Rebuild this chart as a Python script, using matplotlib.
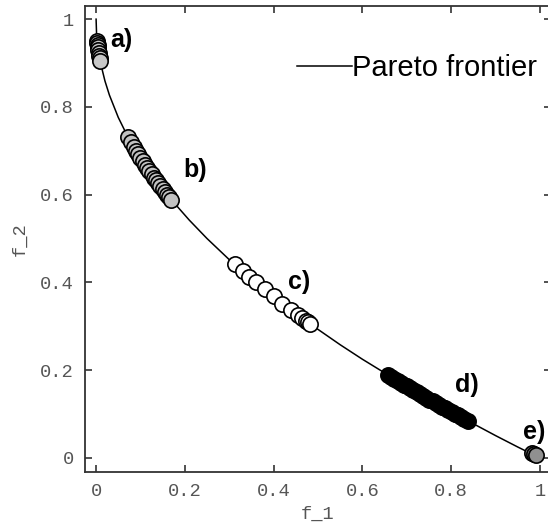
#importar librerias
import matplotlib
matplotlib.use("Agg")
import matplotlib.pyplot as plt

#frente de pareto
curva_f1 = [0, 0.001, 0.003, 0.006, 0.01, 0.02, 0.03, 0.05, 0.07, 0.1, 0.13, 0.17,
            0.21, 0.25, 0.3, 0.35, 0.4, 0.45, 0.5, 0.55, 0.6, 0.65, 0.7, 0.75,
            0.8, 0.85, 0.9, 0.95, 0.99]
curva_f2 = [1.0, 0.968, 0.945, 0.923, 0.9, 0.859, 0.827, 0.776, 0.735, 0.684, 0.639, 0.588,
            0.542, 0.5, 0.452, 0.408, 0.368, 0.329, 0.293, 0.258, 0.225, 0.194, 0.163, 0.134,
            0.106, 0.078, 0.051, 0.025, 0.005]

#grupos de soluciones
a_f1 = [0.0025, 0.003, 0.0035, 0.004, 0.005, 0.006, 0.007, 0.008, 0.009]
a_f2 = [0.95, 0.945, 0.941, 0.937, 0.929, 0.923, 0.916, 0.911, 0.905]

b_f1 = [0.072, 0.078, 0.085, 0.09, 0.095, 0.1, 0.105, 0.11, 0.115, 0.12, 0.125,
        0.13, 0.135, 0.14, 0.145, 0.15, 0.155, 0.16, 0.165, 0.169]
b_f2 = [0.732, 0.721, 0.708, 0.7, 0.692, 0.684, 0.676, 0.668, 0.661, 0.654, 0.646,
        0.639, 0.633, 0.626, 0.619, 0.613, 0.606, 0.6, 0.594, 0.589]

c_f1 = [0.313, 0.33, 0.345, 0.36, 0.38, 0.4, 0.42, 0.44, 0.455, 0.465, 0.472, 0.478, 0.482]
c_f2 = [0.441, 0.426, 0.413, 0.4, 0.384, 0.368, 0.352, 0.337, 0.325, 0.318, 0.313, 0.309, 0.306]

d_f1 = [0.658, 0.665, 0.672, 0.68, 0.687, 0.694, 0.701, 0.708, 0.715, 0.722, 0.73, 0.737, 0.744,
        0.751, 0.758, 0.765, 0.772, 0.78, 0.787, 0.794, 0.801, 0.808, 0.815, 0.822, 0.83, 0.838]
d_f2 = [0.189, 0.185, 0.18, 0.175, 0.171, 0.167, 0.163, 0.159, 0.154, 0.15, 0.146, 0.142, 0.137,
        0.133, 0.129, 0.125, 0.121, 0.117, 0.113, 0.109, 0.105, 0.101, 0.097, 0.093, 0.089, 0.085]

e_f1 = [0.982, 0.987, 0.991]
e_f2 = [0.012, 0.009, 0.006]

#etiquetas de cada grupo
etiquetas = ["a)", "b)", "c)", "d)", "e)"]
etiq_x = [0.032, 0.196, 0.432, 0.808, 0.961]
etiq_y = [0.952, 0.656, 0.401, 0.166, 0.059]

ticks = [0, 0.2, 0.4, 0.6, 0.8, 1]
tick_labels = ["0", "0.2", "0.4", "0.6", "0.8", "1"]

fig = plt.figure(figsize=(5.48, 5.29), dpi=100)
ax = fig.add_axes([85/548, 57/529, 466/548, 466/529])

linea, = ax.plot(curva_f1, curva_f2, color="black", lw=1.1, zorder=2)

grupos = [(a_f1, a_f2, "#c8c8c8"), (b_f1, b_f2, "#c2c2c2"), (c_f1, c_f2, "white"),
          (d_f1, d_f2, "black"), (e_f1, e_f2, "#909090")]
for gx, gy, col in grupos:
    ax.plot(gx, gy, "o", ms=11, mfc=col, mec="black", mew=1.2, ls="none", zorder=3)

for t, x, y in zip(etiquetas, etiq_x, etiq_y):
    ax.text(x, y, t, fontsize=18, fontweight="bold", family="Liberation Sans",
            ha="left", va="center", zorder=4)

ax.set_xlim(-0.025, 1.025)
ax.set_ylim(-0.032, 1.03)
ax.set_xticks(ticks)
ax.set_xticklabels(tick_labels)
ax.set_yticks(ticks)
ax.set_yticklabels(tick_labels)
ax.tick_params(direction="in", length=5, width=1.2, top=True, right=True,
               labelsize=13.5, labelcolor="#555555", colors="#333333", pad=8)
for lab in ax.get_xticklabels() + ax.get_yticklabels():
    lab.set_family("Liberation Mono")
    lab.set_color("#555555")
for s in ax.spines.values():
    s.set_linewidth(1.3)
    s.set_color("#333333")

ax.set_xlabel("f_1", family="Liberation Mono", fontsize=13.5, color="#555555", labelpad=4)
ax.set_ylabel("f_2", family="Liberation Mono", fontsize=13.5, color="#555555", labelpad=8)

ax.legend([linea], ["Pareto frontier"], frameon=False, loc="center left",
          bbox_to_anchor=(297/548, 461/529), bbox_transform=fig.transFigure,
          prop={"family": "Liberation Sans", "size": 21},
          handlelength=1.9, handletextpad=0.0, borderpad=0, borderaxespad=0)

fig.savefig("out.png", dpi=100)
